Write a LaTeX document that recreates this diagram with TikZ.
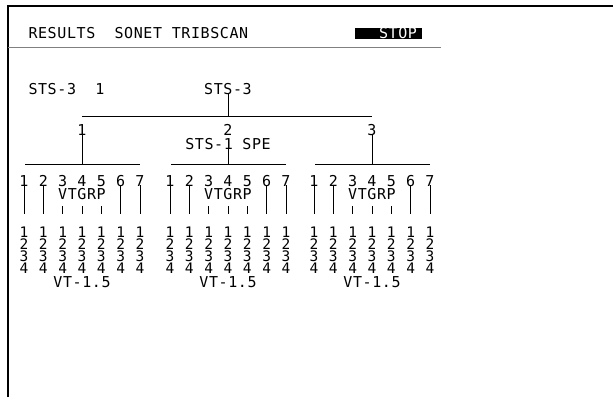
\documentclass[tikz,border=0pt]{standalone}
\usepackage{fontspec}
\newfontfamily\lcd[LetterSpace=4]{DejaVu Sans Mono}
\begin{document}
\begin{tikzpicture}[x=1pt,y=-1pt,
  font=\lcd\fontsize{15}{15}\selectfont,
  txt/.style={inner sep=0.3pt, anchor=center},
  stk/.style={inner sep=0pt, anchor=center, align=center,
              font=\lcd\fontsize{14.5}{12}\selectfont},
  ln/.style={line width=0.9pt},
  frame/.style={line width=1.6pt},
  sep/.style={line width=1.3pt, black!50}]
\useasboundingbox (0,0) rectangle (613,397);
\fill[white] (0,0) rectangle (613,397);
% frame
\coordinate (fbl) at (8,397);
\coordinate (ftl) at (8,6);
\coordinate (ftr) at (613,6);
\draw[frame] (fbl) -- (ftl) -- (ftr);
% header
\node[txt, anchor=west] (title) at (28,33) {RESULTS\ \ SONET TRIBSCAN};
\node[fill=black, text=white, inner sep=0pt, minimum height=11.5pt,
      text width=67pt, align=right] (stop) at (388.5,33.5) {STOP\hspace*{5pt}};
\coordinate (sepL) at (8,47.5);
\coordinate (sepR) at (441,47.5);
\draw[sep] (sepL) -- (sepR);
% top level
\node[txt, anchor=west] (sts31) at (28,89) {STS-3\ \ 1};
\node[txt] (sts3) at (228,89) {STS-3};
\coordinate (hub) at (228,116);
\coordinate (tl) at (82,116);
\coordinate (tr) at (372,116);
\draw[ln] ([yshift=2pt]sts3.south) -- (hub);
\draw[ln] (tl) -- (tr);
\node[txt] (n1) at (82,130) {1};
\node[txt] (n2) at (228,130) {2};
\node[txt] (n3) at (372,130) {3};
\node[txt] (spe) at (228,144) {STS-1 SPE};
\coordinate (g1c) at (82,164);
\coordinate (g2c) at (228,164);
\coordinate (g3c) at (372,164);
\draw[ln] ([yshift=1.5pt]n1.south) -- (g1c);
\draw[ln] ([yshift=1.5pt]spe.south) -- (g2c);
\draw[ln] ([yshift=1.5pt]n3.south) -- (g3c);
% groups
\foreach \g/\c in {1/82,2/228,3/372}{
  \coordinate (gL\g) at (\c-57,164);
  \coordinate (gR\g) at (\c+58,164);
  \draw[ln] (gL\g) -- (gR\g);
  \foreach \j/\o in {1/-58,2/-38.67,3/-19.33,4/0,5/19.33,6/38.67,7/58}{
    \node[txt] (d\g\j) at (\c+\o,181) {\j};
    \node[stk] (s\g\j) at (\c+\o,250) {1\\2\\3\\4};
  }
  \node[txt] (vg\g) at (\c,194.5) {VTGRP};
  \node[txt] (vt\g) at (\c,282) {VT-1.5};
  \foreach \j/\o in {1/-58,2/-38.67,6/38.67,7/58}{
    \coordinate (le\g\j) at (\c+\o,214);
    \draw[ln] ([yshift=1.5pt]d\g\j.south) -- (le\g\j);
  }
  \foreach \j/\o in {3/-19.33,4/0,5/19.33}{
    \coordinate (ta\g\j) at (\c+\o,206);
    \coordinate (tb\g\j) at (\c+\o,214);
    \draw[ln] (ta\g\j) -- (tb\g\j);
  }
}
\end{tikzpicture}
\end{document}
